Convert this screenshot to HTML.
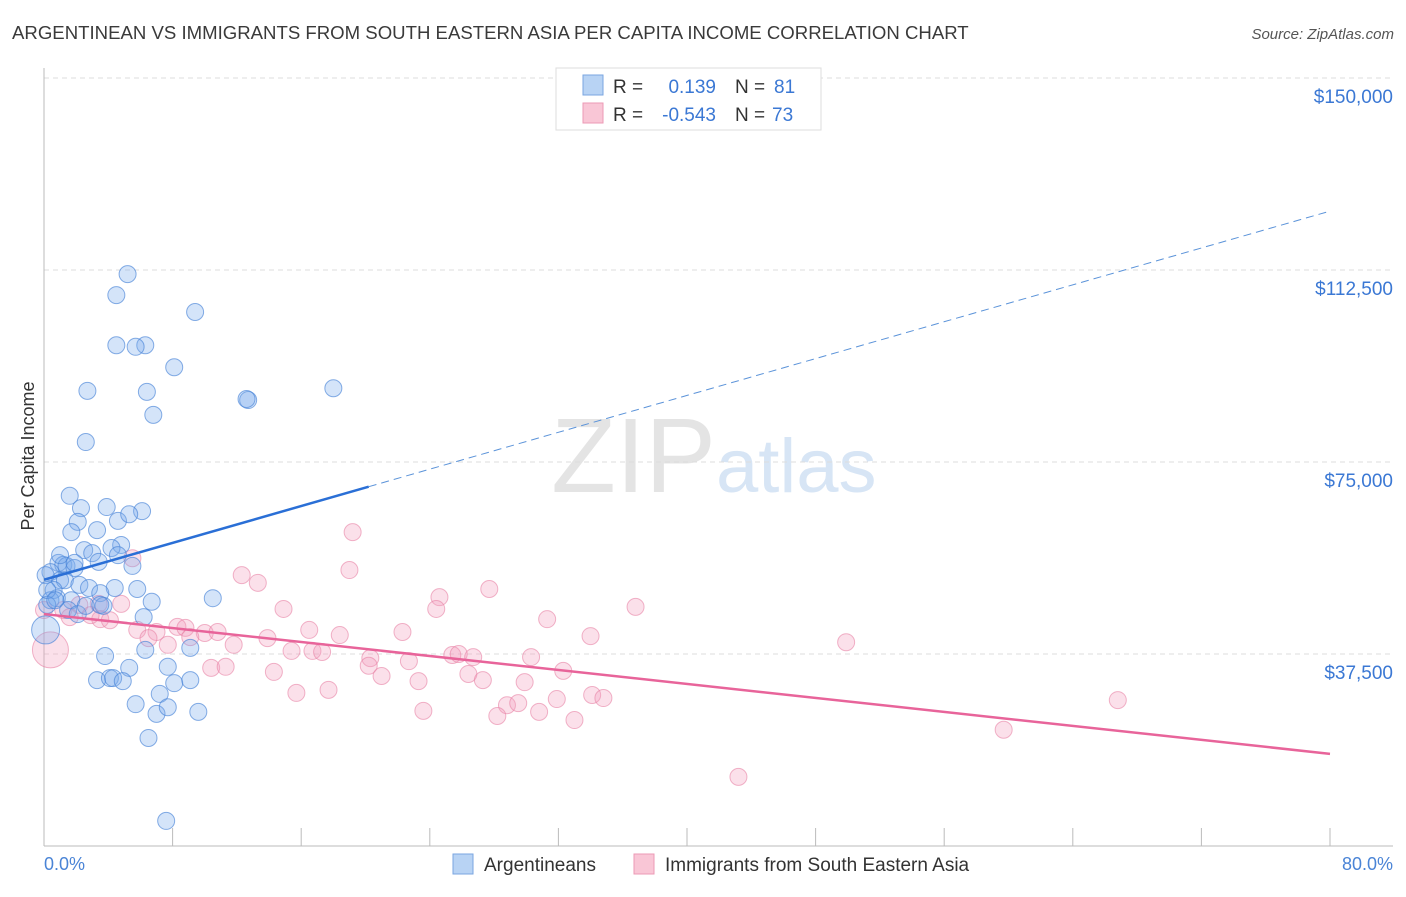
<!DOCTYPE html>
<html><head><meta charset="utf-8"><style>
body{margin:0;background:#fff;font-family:"Liberation Sans",sans-serif;}
svg text{font-family:"Liberation Sans",sans-serif;}
</style></head><body>
<svg id="chart" width="1406" height="892" xmlns="http://www.w3.org/2000/svg">
<text x="12" y="39" font-size="18.6" fill="#3a3a3a">ARGENTINEAN VS IMMIGRANTS FROM SOUTH EASTERN ASIA PER CAPITA INCOME CORRELATION CHART</text>
<text x="1394" y="39" font-size="15" fill="#555" font-style="italic" text-anchor="end">Source: ZipAtlas.com</text>
<text x="716" y="492" font-size="106" fill="#e4e4e4" text-anchor="end" font-family="Liberation Serif">ZIP</text>
<text x="716" y="492" font-size="76" fill="#d7e5f5">atlas</text>
<g id="grid"></g><g id="axes"></g><g id="pts"></g><g id="lines"></g>
<text transform="translate(34,456) rotate(-90)" font-size="18" fill="#333" text-anchor="middle">Per Capita Income</text>
<text x="44" y="870" font-size="18" fill="#4a84d6">0.0%</text>
<text x="1393" y="870" font-size="18" fill="#4a84d6" text-anchor="end">80.0%</text>
<g>
<rect x="556" y="68" width="265" height="62" fill="#fff" stroke="#ddd"/>
<rect x="583" y="75" width="20" height="20" fill="#b8d3f4" stroke="#7aa6e0"/>
<rect x="583" y="103" width="20" height="20" fill="#f9c6d6" stroke="#ec9ab5"/>
<text x="613" y="93" font-size="19" fill="#333">R =</text><text x="716" y="93" font-size="19" fill="#3b78d4" text-anchor="end">0.139</text>
<text x="735" y="93" font-size="19" fill="#333">N =</text><text x="774" y="93" font-size="19" fill="#3b78d4">81</text>
<text x="613" y="121" font-size="19" fill="#333">R =</text><text x="716" y="121" font-size="19" fill="#3b78d4" text-anchor="end">-0.543</text>
<text x="735" y="121" font-size="19" fill="#333">N =</text><text x="772" y="121" font-size="19" fill="#3b78d4">73</text>
</g>
<g>
<rect x="453" y="854" width="20" height="20" fill="#b8d3f4" stroke="#7aa6e0"/>
<text x="484" y="871" font-size="19" fill="#333">Argentineans</text>
<rect x="634" y="854" width="20" height="20" fill="#f9c6d6" stroke="#ec9ab5"/>
<text x="665" y="871" font-size="19" fill="#333">Immigrants from South Eastern Asia</text>
</g>
</svg>
<script>
const blueX=[5.2,4.5,9.4,4.5,6.3,5.7,8.1,2.7,6.4,18.0,12.7,12.6,6.8,2.6,1.6,2.3,3.9,6.1,2.1,4.6,5.3,1.7,3.3,2.5,3.0,4.8,4.2,4.6,0.9,1.2,1.4,1.9,3.4,5.5,0.4,1.0,1.3,2.2,0.6,2.8,4.4,5.8,0.4,0.8,1.7,3.5,6.7,10.5,1.5,2.1,3.7,6.2,0.2,3.8,6.3,7.7,5.3,3.3,4.1,4.3,4.9,8.1,9.1,7.2,5.7,7.0,7.7,9.6,6.5,7.6,9.1,1.0,1.9,0.1,0.2,0.7,2.6,3.5];
const blueY=[111.7,107.6,104.3,97.8,97.8,97.5,93.5,88.9,88.7,89.4,87.1,87.3,84.2,78.9,68.4,66.0,66.2,65.4,63.3,63.5,64.8,61.3,61.7,57.8,57.2,58.8,58.2,56.8,55.3,54.9,54.7,54.3,55.5,54.7,53.5,51.9,51.9,51.0,50.0,50.4,50.4,50.2,48.0,48.4,48.0,49.4,47.7,48.4,46.1,45.3,46.9,44.7,47.1,37.1,38.3,35.0,34.8,32.4,32.8,32.8,32.2,31.8,32.4,29.7,27.7,25.8,27.1,26.2,21.1,4.9,38.7,56.8,55.3,52.9,50.0,48.0,46.9,47.1];
const blueBigX=[0.1], blueBigY=[42.2];
const pinkX=[19.2,19.0,12.3,13.3,5.5,27.7,24.6,36.8,14.9,24.4,31.3,4.8,3.4,2.2,1.2,1.6,3.5,5.8,7.0,8.3,8.8,10.0,10.8,6.5,7.7,9.1,11.8,13.9,16.5,18.4,22.3,34.0,49.9,15.4,16.7,17.3,20.3,22.7,25.4,25.8,26.7,30.3,32.3,10.4,11.3,14.3,20.2,21.0,23.3,26.4,27.3,29.9,15.7,17.7,23.6,28.8,29.5,30.8,31.9,34.1,34.8,28.2,33.0,66.8,59.7,43.2,2.9,4.1,0.0];
const pinkY=[61.3,53.9,52.9,51.4,56.2,50.2,48.6,46.7,46.3,46.3,44.3,47.3,47.3,47.1,46.1,44.7,44.3,42.2,41.8,42.8,42.6,41.6,41.8,40.6,39.3,40.8,39.3,40.6,42.2,41.2,41.8,41.0,39.8,38.1,38.1,37.9,36.7,36.1,37.3,37.5,36.9,36.9,34.2,34.8,35.0,34.0,35.2,33.2,32.2,33.6,32.4,32.0,29.9,30.5,26.4,27.5,27.9,26.2,28.7,29.5,28.9,25.4,24.6,28.5,22.7,13.5,45.1,44.1,46.1];
const pinkBigX=[0.4], pinkBigY=[38.3];
const yTicks=[37.5,75,112.5,150];
const yTickLabels=["$37,500","$75,000","$112,500","$150,000"];
const xTicks=[0,8,16,24,32,40,48,56,64,72,80];
const blueTrend=[52.0,124.0], blueSolidEnd=20.2;
const pinkTrend=[45.3,18.0];
const sx=v=>44+v*1286/80, sy=v=>846-v*192/37.5;
const NS="http://www.w3.org/2000/svg";
function mk(p,t,a){const e=document.createElementNS(NS,t);for(const k in a)e.setAttribute(k,a[k]);document.getElementById(p).appendChild(e);return e;}
yTicks.forEach((t,i)=>{
 const l=mk('grid','line',{x1:44,x2:1393,y1:sy(t),y2:sy(t),stroke:'#ddd','stroke-dasharray':'5,4'});
 
 
 const tx=mk('grid','text',{x:1393,y:sy(t)+25,'font-size':19,fill:'#3b78d4','text-anchor':'end'});
 tx.textContent=yTickLabels[i];
 
 
});
const ax=mk('axes','line',{x1:44,x2:1393,y1:846,y2:846,stroke:'#bbb'});


const ay=mk('axes','line',{x1:44,x2:44,y1:68,y2:846,stroke:'#bbb'});


xTicks.forEach(t=>{const l=mk('axes','line',{x1:sx(t),x2:sx(t),y1:828,y2:846,stroke:'#bbb'});
 
 });
function dots(X,Y,r,fill,stroke,name){X.forEach((x,i)=>{const c=mk('pts','circle',{cx:sx(x),cy:sy(Y[i]),r:r,fill:fill,stroke:stroke,'stroke-width':1});
 
 });}
dots(pinkX,pinkY,8.5,'rgba(244,160,190,0.32)','rgba(232,130,165,0.6)','pink-point');
dots(pinkBigX,pinkBigY,18,'rgba(244,160,190,0.32)','rgba(232,130,165,0.6)','pink-point');
dots(blueX,blueY,8.5,'rgba(120,170,235,0.32)','rgba(70,130,215,0.65)','blue-point');
dots(blueBigX,blueBigY,14,'rgba(120,170,235,0.32)','rgba(70,130,215,0.65)','blue-point');
const bAt=x=>blueTrend[0]+(blueTrend[1]-blueTrend[0])*x/80;
const b1=mk('lines','line',{x1:sx(0),y1:sy(bAt(0)),x2:sx(blueSolidEnd),y2:sy(bAt(blueSolidEnd)),stroke:'#2a6fd6','stroke-width':2.5});


const b2=mk('lines','line',{x1:sx(blueSolidEnd),y1:sy(bAt(blueSolidEnd)),x2:sx(80),y2:sy(bAt(80)),stroke:'#5b93d9','stroke-width':1,'stroke-dasharray':'8,5'});


const p1=mk('lines','line',{x1:sx(0),y1:sy(pinkTrend[0]),x2:sx(80),y2:sy(pinkTrend[1]),stroke:'#e8649a','stroke-width':2.5});


</script>
</body></html>
